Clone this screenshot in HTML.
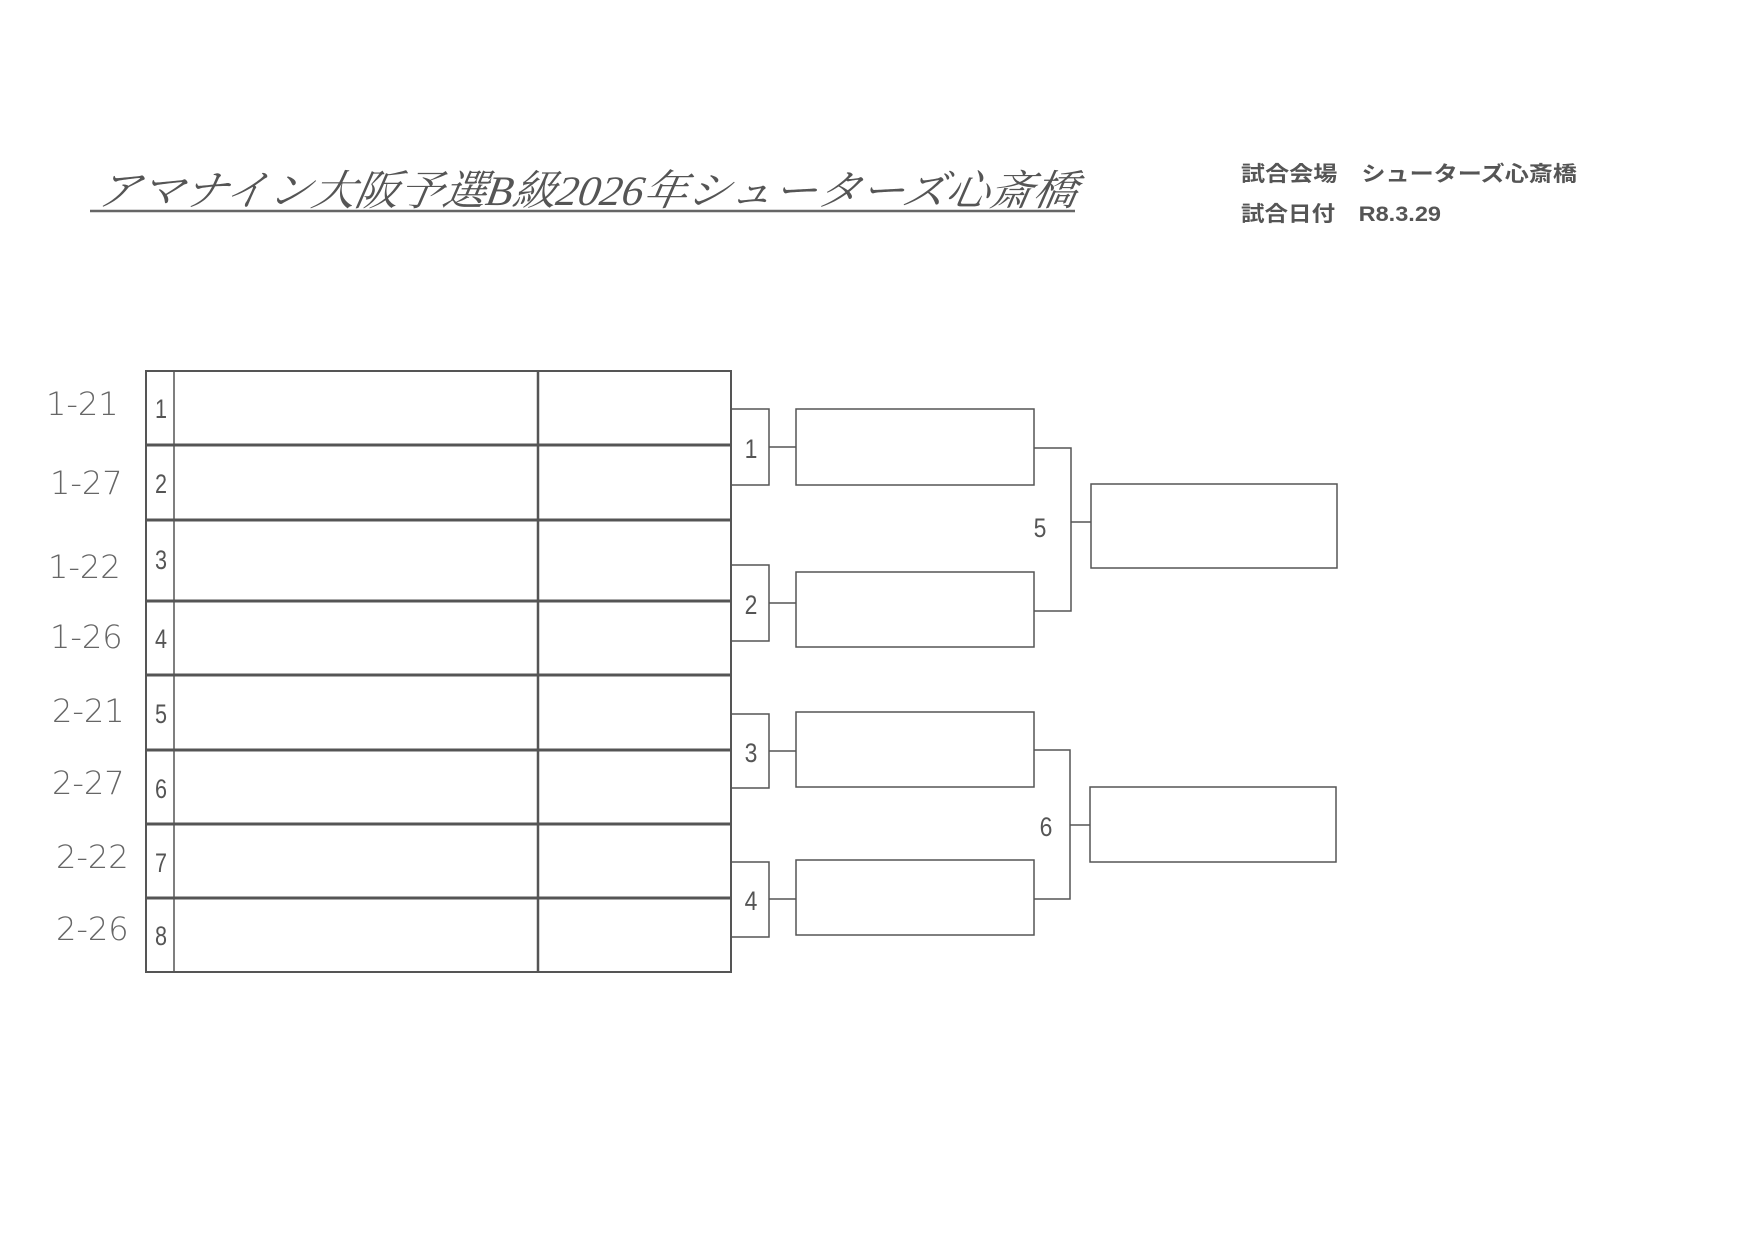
<!DOCTYPE html>
<html><head><meta charset="utf-8"><style>
html,body{margin:0;padding:0;background:#fff;}
svg{display:block}
</style></head><body>
<svg width="1754" height="1240" viewBox="0 0 1754 1240" xmlns="http://www.w3.org/2000/svg">
<rect width="1754" height="1240" fill="#fff"/>
<!-- title -->
<text x="95" y="205" font-family="'Liberation Serif','Noto Serif CJK SC',serif" font-style="italic" font-size="42" fill="#555" textLength="980" lengthAdjust="spacingAndGlyphs" transform="skewX(-10) translate(36,0)">アマナイン大阪予選B級2026年シューターズ心斎橋</text>
<line x1="90" y1="211" x2="1075" y2="211" stroke="#666" stroke-width="2.5"/>
<text x="1241" y="181" font-family="'Liberation Sans','Noto Sans CJK JP',sans-serif" font-weight="bold" font-size="21" fill="#555" textLength="336" lengthAdjust="spacingAndGlyphs">試合会場　シューターズ心斎橋</text>
<text x="1241" y="221" font-family="'Liberation Sans','Noto Sans CJK JP',sans-serif" font-weight="bold" font-size="21" fill="#555" textLength="200" lengthAdjust="spacingAndGlyphs">試合日付　R8.3.29</text>

<g fill="none" stroke="#555">
<rect x="146" y="371" width="585" height="601" stroke-width="2"/>
<line x1="174" y1="371" x2="174" y2="972" stroke-width="1.5"/>
<line x1="538" y1="371" x2="538" y2="972" stroke-width="2.5"/>
<g stroke-width="3">
<line x1="146" y1="445" x2="731" y2="445"/>
<line x1="146" y1="520" x2="731" y2="520"/>
<line x1="146" y1="601" x2="731" y2="601"/>
<line x1="146" y1="675" x2="731" y2="675"/>
<line x1="146" y1="750" x2="731" y2="750"/>
<line x1="146" y1="824" x2="731" y2="824"/>
<line x1="146" y1="898" x2="731" y2="898"/>
</g>
<g stroke-width="1.5">
<path d="M731 409 H769 V485 H731"/>
<path d="M731 565 H769 V641 H731"/>
<path d="M731 714 H769 V788 H731"/>
<path d="M731 862 H769 V937 H731"/>
<line x1="769" y1="447" x2="796" y2="447"/>
<line x1="769" y1="603" x2="796" y2="603"/>
<line x1="769" y1="751" x2="796" y2="751"/>
<line x1="769" y1="899" x2="796" y2="899"/>
<rect x="796" y="409" width="238" height="76"/>
<rect x="796" y="572" width="238" height="75"/>
<rect x="796" y="712" width="238" height="75"/>
<rect x="796" y="860" width="238" height="75"/>
<path d="M1034 448 H1071 V611 H1034"/>
<path d="M1034 750 H1070 V899 H1034"/>
<line x1="1071" y1="522" x2="1091" y2="522"/>
<line x1="1070" y1="825" x2="1090" y2="825"/>
<rect x="1091" y="484" width="246" height="84"/>
<rect x="1090" y="787" width="246" height="75"/>
</g>
</g>

<g font-family="'Liberation Sans',sans-serif" font-size="27" fill="#555" text-anchor="middle">
<g transform="translate(161,0) scale(0.8,1)">
<text x="0" y="418">1</text>
<text x="0" y="493">2</text>
<text x="0" y="569">3</text>
<text x="0" y="648">4</text>
<text x="0" y="723">5</text>
<text x="0" y="798">6</text>
<text x="0" y="872">7</text>
<text x="0" y="945">8</text>
</g>
<g transform="translate(751,0) scale(0.85,1)">
<text x="0" y="458">1</text>
<text x="0" y="614">2</text>
<text x="0" y="762">3</text>
<text x="0" y="910">4</text>
</g>
<g transform="translate(1040,0) scale(0.85,1)">
<text x="0" y="537">5</text>
<text x="7" y="836">6</text>
</g>
</g>

<g font-family="'DejaVu Sans',sans-serif" font-weight="200" font-size="32" fill="#666">
<text x="46" y="415">1-21</text>
<text x="50" y="494">1-27</text>
<text x="48" y="578">1-22</text>
<text x="50" y="648">1-26</text>
<text x="52" y="722">2-21</text>
<text x="52" y="794">2-27</text>
<text x="56" y="868">2-22</text>
<text x="56" y="940">2-26</text>
</g>
</svg>
</body></html>
